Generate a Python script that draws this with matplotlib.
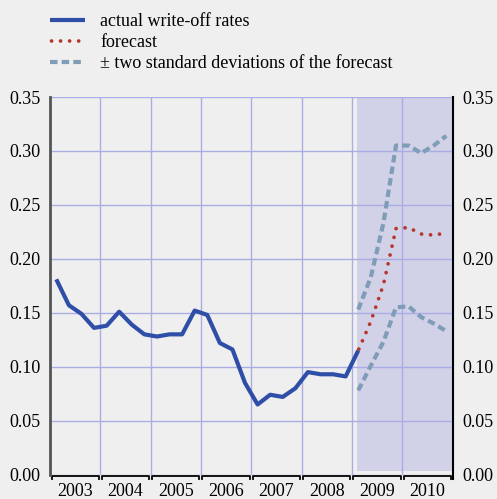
import matplotlib.pyplot as plt
import numpy as np

plt.rcParams['font.family'] = ['Liberation Serif', 'DejaVu Serif']
plt.rcParams['font.size'] = 13

# quarterly write-off rates (mid-quarter positions)
actual_x = [2003 + (i + 0.5) / 4 for i in range(25)]  # 2003Q1 .. 2009Q1
actual = [0.181, 0.157, 0.149, 0.136, 0.138, 0.151, 0.139, 0.130,
          0.128, 0.130, 0.130, 0.152, 0.148, 0.122, 0.116, 0.085,
          0.065, 0.074, 0.072, 0.080, 0.095, 0.093, 0.093, 0.091,
          0.115]

fc_x = [2009 + (i + 0.5) / 4 for i in range(8)]  # 2009Q1 .. 2010Q4
forecast = [0.115, 0.142, 0.176, 0.228, 0.229, 0.223, 0.222, 0.224]
upper = [0.153, 0.183, 0.233, 0.305, 0.305, 0.298, 0.305, 0.314]
lower = [0.078, 0.101, 0.123, 0.155, 0.156, 0.146, 0.140, 0.133]

years = [2003, 2004, 2005, 2006, 2007, 2008, 2009, 2010]
shade_start, shade_end = 2009.11, 2010.98

bg = '#efefef'
grid_col = '#a9ade3'

fig = plt.figure(figsize=(4.97, 4.99), dpi=100, facecolor=bg)
ax = fig.add_axes([50 / 497, 1 - 474.6 / 499, 402.6 / 497, 377.6 / 499])
ax.set_facecolor(bg)

ax.axvspan(shade_start, shade_end, ymin=0.01, ymax=1, color='#d1d1e8', lw=0, zorder=0.2)

l1, = ax.plot(actual_x, actual, color='#2f4ea8', lw=3, solid_capstyle='butt', zorder=3)
l2, = ax.plot(fc_x, forecast, color='#b5362a', lw=2.7, linestyle=(2.0, (0.01, 2.4)),
              dash_capstyle='round', zorder=3)
l3, = ax.plot(fc_x, upper, color='#7f9db6', lw=3, linestyle=(0, (1.8, 1.0)), zorder=2)
ax.plot(fc_x, lower, color='#7f9db6', lw=3, linestyle=(0, (1.8, 1.0)), zorder=2)

ax.set_xlim(2003, 2011)
ax.set_ylim(0, 0.35)
ax.set_yticks(np.arange(0, 0.351, 0.05))
ax.set_yticklabels([f'{v:.2f}' for v in np.arange(0, 0.351, 0.05)])
ax.set_xticks(years[1:])
ax.set_xticklabels([])
ax.set_xticks([y + 0.5 for y in years], minor=True)
ax.set_xticklabels([str(y) for y in years], minor=True)
ax.tick_params(axis='x', which='both', length=0, pad=6)
ax.tick_params(axis='y', length=0, pad=7, labelleft=True, labelright=True)

ax.grid(True, which='major', color=grid_col, lw=1, zorder=0.5)
ax.set_axisbelow(True)

for s in ['top', 'bottom']:
    ax.spines[s].set_visible(False)
ax.spines['left'].set_color('#555555')
ax.spines['left'].set_linewidth(2)
ax.spines['right'].set_color('black')
ax.spines['right'].set_linewidth(1.5)
ax.spines['right'].set_bounds(-0.004, 0.35)

# bracket-style x axis
trans = ax.get_xaxis_transform()
for y in years:
    ax.plot([y + 0.03, y + 0.03, y + 0.97, y + 0.97], [-0.012, -0.003, -0.003, -0.012],
            color='black', lw=1.3, transform=trans, clip_on=False)

fig.legend([l1, l2, l3],
           ['actual write-off rates', 'forecast', '± two standard deviations of the forecast'],
           loc='upper left', bbox_to_anchor=(50 / 497, 1 - 13.5 / 499), frameon=False,
           handlelength=1.95, handletextpad=0.83, labelspacing=0.22, borderpad=0,
           borderaxespad=0, fontsize=13)

fig.savefig('out.png', dpi=100, facecolor=bg)
